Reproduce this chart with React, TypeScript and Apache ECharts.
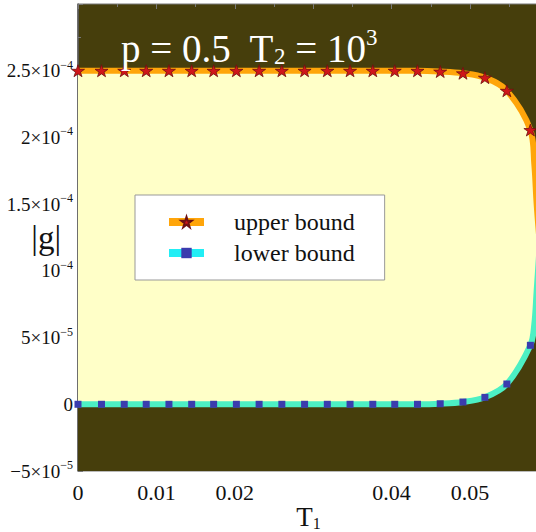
import React, { useEffect, useRef } from 'react';
import * as echarts from 'echarts';

// Tick labels
const tickX = [0, 0.01, 0.02, 0.03, 0.04, 0.05];
const tickXLabels = ['0', '0.01', '0.02', '', '0.04', '0.05'];
const tickY = [-5e-5, 0, 5e-5, 1e-4, 1.5e-4, 2e-4, 2.5e-4];
const tickYMantissa = ['−5×10', '0', '5×10', '10', '1.5×10', '2×10', '2.5×10'];
const tickYExponent = ['−5', '', '−5', '−4', '−4', '−4', '−4'];

// Marker positions (T1)
const markerT1 = [
  0, 0.003, 0.0059, 0.0087, 0.0116, 0.0145, 0.0173, 0.0202, 0.0231, 0.026, 0.0289,
  0.0318, 0.0347, 0.0376, 0.0404, 0.0433, 0.0462, 0.0491, 0.0519, 0.0547, 0.0577,
];
const upperBound = [
  2.5e-4, 2.5e-4, 2.5e-4, 2.5e-4, 2.5e-4, 2.5e-4, 2.5e-4, 2.5e-4, 2.5e-4, 2.5e-4, 2.5e-4,
  2.5e-4, 2.5e-4, 2.5e-4, 2.5e-4, 2.5e-4, 2.494e-4, 2.481e-4, 2.448e-4, 2.35e-4, 2.056e-4,
];
const lowerBound = [
  0, 0, 0, 0, 0, 0, 0, 0, 0, 0, 0,
  0, 0, 0, 0, 0, 0.4e-6, 1.7e-6, 5.2e-6, 1.52e-5, 4.42e-5,
];
// Curve continuation beyond the last marker (no markers)
const upperTailT1 = [0.0582, 0.0585, 0.0589];
const upperTail = [1.8e-4, 1.5e-4, 1.2e-4];
const lowerTailT1 = [0.0582, 0.0585, 0.0589];
const lowerTail = [6.0e-5, 8.5e-5, 1.2e-4];

const SERIF = '"Liberation Serif", "DejaVu Serif", serif';
const DARK = '#463e0c';
const YELLOW = '#ffffc8';
const STAR =
  'path://M0,-10L2.245,-3.09L9.51,-3.09L3.633,1.18L5.88,8.09L0,3.82L-5.88,8.09L-3.633,1.18L-9.51,-3.09L-2.245,-3.09Z';

export default function App() {
  const ref = useRef<HTMLDivElement>(null);
  useEffect(() => {
    if (!ref.current) return;
    const chart = echarts.init(ref.current, undefined, { renderer: 'svg' });
    const upperData: any[] = markerT1.map((x, i) => [x, upperBound[i]]);
    upperTailT1.forEach((x, i) => upperData.push({ value: [x, upperTail[i]], symbol: 'none' }));
    const lowerData: any[] = markerT1.map((x, i) => [x, lowerBound[i]]);
    lowerTailT1.forEach((x, i) => lowerData.push({ value: [x, lowerTail[i]], symbol: 'none' }));

    const tickColor = '#777';
    chart.setOption({
      animation: false,
      title: {
        text: '{a|p = 0.5  T}{s|2}{a| = 10}{p|3}',
        left: 116,
        top: 21,
        textStyle: {
          fontWeight: 'normal',
          rich: {
            a: { fontFamily: SERIF, fontSize: 39, fontWeight: 'normal', color: '#fff' },
            s: { fontFamily: SERIF, fontSize: 23, fontWeight: 'normal', color: '#fff', padding: [16, 0, 0, 0] },
            p: { fontFamily: SERIF, fontSize: 23, fontWeight: 'normal', color: '#fff', padding: [0, 0, 22, 0] },
          },
        },
      },
      legend: {
        orient: 'vertical',
        left: 135,
        top: 195,
        padding: [15, 30, 15, 30],
        backgroundColor: '#fff',
        borderColor: '#999',
        borderWidth: 1,
        borderRadius: 0,
        itemWidth: 35,
        itemHeight: 13,
        itemGap: 7,
        lineStyle: { width: 8 },
        textStyle: { fontFamily: SERIF, fontSize: 24, color: '#111', padding: [0, 0, 0, 25] },
        data: [
          { name: 'upper bound' },
          { name: 'lower bound', lineStyle: { color: '#22eef5', width: 8 } },
        ],
      },
      grid: {
        left: 78,
        top: 4,
        width: 461,
        height: 467,
        show: true,
        backgroundColor: DARK,
        borderColor: tickColor,
        borderWidth: 1,
        outerBoundsMode: 'none',
        containLabel: false,
      },
      xAxis: [
        {
          type: 'value',
          min: 0,
          max: 0.0588,
          interval: 0.01,
          name: '{a|T}{b|1}',
          nameLocation: 'middle',
          nameGap: 32,
          nameMoveOverlap: false,
          nameTextStyle: {
            rich: {
              a: { fontFamily: SERIF, fontSize: 27, color: '#111' },
              b: { fontFamily: SERIF, fontSize: 16, color: '#111', padding: [12, 0, 0, 0] },
            },
          },
          axisLine: { show: true, lineStyle: { color: '#555', width: 1.5 } },
          axisTick: { show: true, inside: true, length: 5, lineStyle: { color: tickColor } },
          minorTick: { show: true, splitNumber: 2, length: 3, lineStyle: { color: tickColor } },
          splitLine: { show: false },
          axisLabel: {
            margin: 10,
            fontFamily: SERIF,
            fontSize: 22,
            color: '#111',
            showMaxLabel: false,
            formatter: (v: number) => {
              const i = tickX.findIndex((t) => Math.abs(t - v) < 1e-9);
              return i < 0 ? '' : tickXLabels[i];
            },
          },
        },
        {
          type: 'value',
          position: 'top',
          min: 0,
          max: 0.0588,
          interval: 0.01,
          axisLine: { show: false },
          axisTick: { show: true, inside: true, length: 5, lineStyle: { color: tickColor } },
          minorTick: { show: true, splitNumber: 2, length: 3, lineStyle: { color: tickColor } },
          splitLine: { show: false },
          axisLabel: { show: false },
        },
      ],
      yAxis: {
        type: 'value',
        min: -5e-5,
        max: 3e-4,
        interval: 5e-5,
        name: '|g|',
        nameLocation: 'middle',
        nameRotate: 0,
        nameGap: 17,
        nameMoveOverlap: false,
        nameTextStyle: { fontFamily: SERIF, fontSize: 33, color: '#111' },
        axisLine: { show: true, lineStyle: { color: '#555', width: 1.5 } },
        axisTick: { show: true, inside: true, length: 5, lineStyle: { color: tickColor } },
        minorTick: { show: true, splitNumber: 2, length: 3, lineStyle: { color: tickColor } },
        splitLine: { show: false },
        axisLabel: {
          margin: 5,
          showMaxLabel: false,
          formatter: (v: number) => {
            const i = tickY.findIndex((t) => Math.abs(t - v) < 1e-12);
            if (i < 0) return '';
            return tickYExponent[i]
              ? `{m|${tickYMantissa[i]}}{e|${tickYExponent[i]}}`
              : `{m|${tickYMantissa[i]}}`;
          },
          rich: {
            m: { fontFamily: SERIF, fontSize: 19, color: '#111' },
            e: { fontFamily: SERIF, fontSize: 12, color: '#111', padding: [0, 0, 12, 0] },
          },
        },
      },
      series: [
        {
          name: 'upper bound',
          type: 'line',
          data: upperData,
          smooth: 0.35,
          symbol: STAR,
          symbolSize: [13, 12],
          showAllSymbol: true,
          lineStyle: { color: '#ffa50a', width: 6 },
          itemStyle: { color: '#d0161a', borderColor: '#6e1010', borderWidth: 0.8 },
          areaStyle: { color: YELLOW, opacity: 1, origin: 'start' },
          z: 2,
        },
        {
          name: 'lower bound',
          type: 'line',
          data: lowerData,
          smooth: 0.35,
          symbol: 'rect',
          symbolSize: 7,
          showAllSymbol: true,
          lineStyle: { color: '#4cf0c4', width: 6 },
          itemStyle: { color: '#3b3cae', borderWidth: 0 },
          areaStyle: { color: DARK, opacity: 1, origin: 'start' },
          z: 3,
        },
      ],
    });
    return () => chart.dispose();
  }, []);
  return (
    <div
      ref={ref}
      style={{ position: 'fixed', left: 0, top: 0, width: 536, height: 532, background: '#fff' }}
    />
  );
}
